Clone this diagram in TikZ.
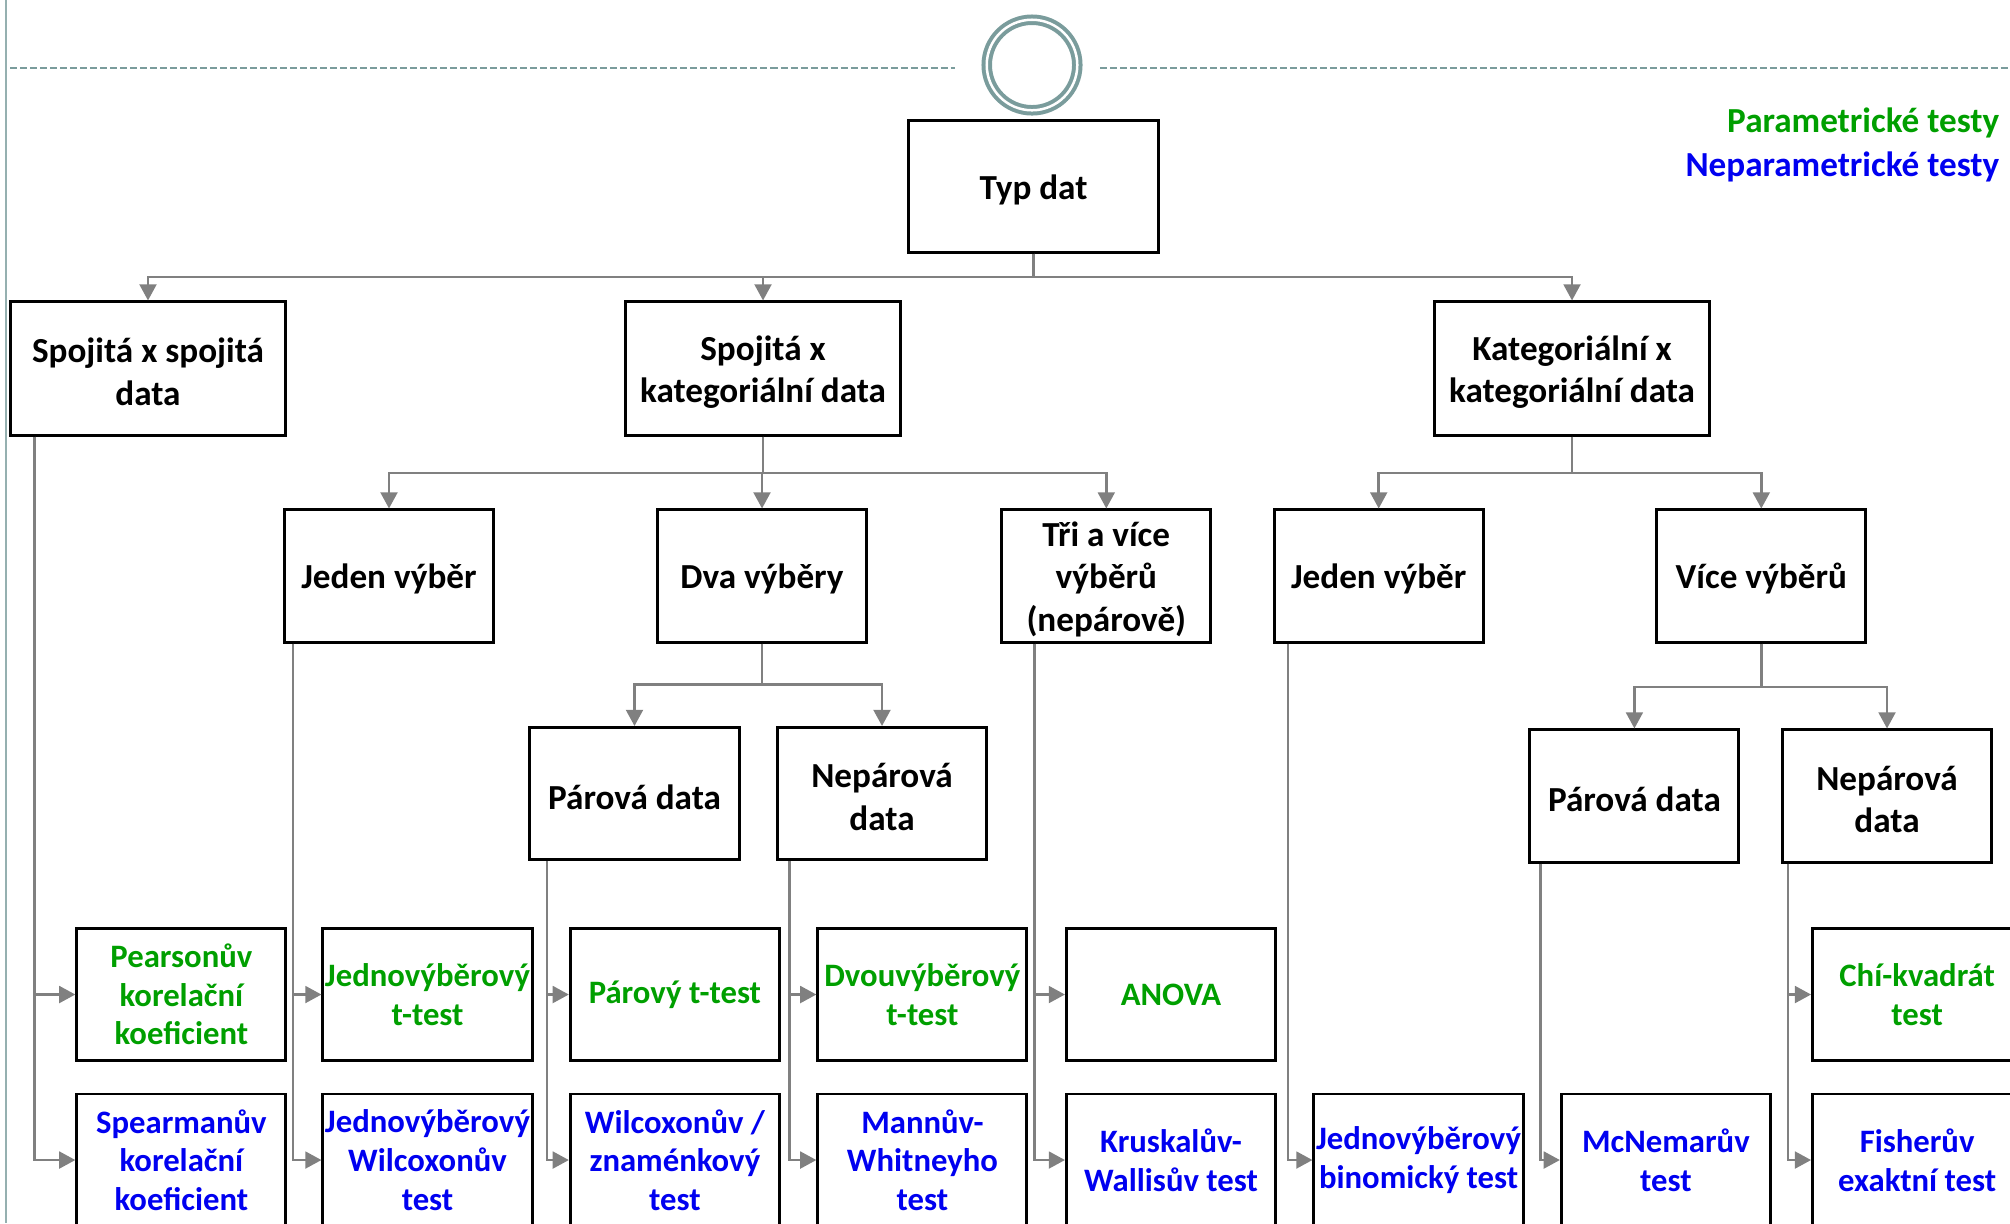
\documentclass[tikz,border=0pt]{standalone}
\usepackage{fontspec}
\setmainfont{Carlito}
\usepackage{tikz}
\usetikzlibrary{arrows.meta,calc}
\definecolor{ParamGreen}{HTML}{009F00}
\definecolor{NeparBlue}{HTML}{0000F0}
\definecolor{LinkGray}{HTML}{808080}
\definecolor{FrameTeal}{HTML}{7A9C9C}

\begin{document}
\begin{tikzpicture}[x=0.01cm,y=-0.01cm,>={Triangle[length=4.6pt,width=4.8pt]},
  frame/.style={draw,line width=0.85pt,align=center,inner sep=0pt,minimum width=2.09cm,minimum height=1.32cm},
  box/.style={frame,font=\bfseries\fontsize{10}{12}\selectfont,execute at begin node={\rule{0pt}{#1}}},
  box/.default=8.9pt,
  bigbox/.style={box=20.9pt,minimum width=2.75cm,minimum height=1.33cm},
  par/.style={frame,text=ParamGreen,font=\bfseries\fontsize{9.3}{11}\selectfont},
  nepar/.style={frame,text=NeparBlue,font=\bfseries\fontsize{9.3}{11}\selectfont},
  link/.style={->,draw=LinkGray,line width=0.7pt}]
\useasboundingbox (0,0) rectangle (2010,1223);
\clip (0,0) rectangle (2010,1223);
% lane
\draw[FrameTeal!80,line width=0.02cm] (6,0) -- (6,1223);
\draw[FrameTeal,line width=0.02cm,dash pattern=on 0.07cm off 0.03cm] (10,68) -- (955,68) (1100,68) -- (2010,68);
\node[circle,draw=FrameTeal,line width=0.04cm,double=white,double distance=0.025cm,minimum size=0.905cm,inner sep=0pt] (start) at (1032,65) {};
% legend
\node[anchor=base east,inner sep=0pt,text=ParamGreen,font=\bfseries\fontsize{10}{12}\selectfont] (legpar) at (2000,132) {Parametrické testy};
\node[anchor=base east,inner sep=0pt,text=NeparBlue,font=\bfseries\fontsize{10}{12}\selectfont] (legnepar) at (2000,176) {Neparametrické testy};
% data types
\node[box,minimum width=2.5cm,minimum height=1.31cm] (typ) at (1033.5,186.5) {Typ dat};
\node[bigbox] (ss) at (148,368.5) {Spojitá x spojitá\\data};
\node[bigbox] (sk) at (763,368.5) {Spojitá x\\kategoriální data};
\node[bigbox] (kk) at (1572,368.5) {Kategoriální x\\kategoriální data};
% samples
\node[box] (jv1) at (389,576) {Jeden výběr};
\node[box] (dv) at (762,576) {Dva výběry};
\node[box=32.9pt] (tri) at (1106.3,576) {Tři a více\\výběrů\\(nepárově)};
\node[box] (jv2) at (1378.7,576) {Jeden výběr};
\node[box] (vv) at (1761.3,576) {Více výběrů};
\node[box] (pd1) at (634.5,793.5) {Párová data};
\node[box=20.9pt] (nd1) at (882,793.5) {Nepárová\\data};
\node[box] (pd2) at (1634.4,796) {Párová data};
\node[box=20.9pt] (nd2) at (1887,796) {Nepárová\\data};
% tests
\node[par] (pear) at (181.4,994.5) {Pearsonův\\korelační\\koeficient};
\node[par] (jtt) at (427.5,994.5) {Jednovýběrový\\t-test};
\node[par] (ptt) at (674.9,994.5) {Párový t-test};
\node[par] (dtt) at (922.4,994.5) {Dvouvýběrový\\t-test};
\node[par] (anova) at (1171,994.5) {ANOVA};
\node[par] (chi) at (1917.1,994.5) {Chí-kvadrát\\test};
\node[nepar] (spear) at (181.4,1160) {Spearmanův\\korelační\\koeficient};
\node[nepar] (jwil) at (427.5,1160) {Jednovýběrový\\Wilcoxonův\\test};
\node[nepar] (wil) at (674.9,1160) {Wilcoxonův /\\znaménkový\\test};
\node[nepar] (mw) at (922.4,1160) {Mannův-\\Whitneyho\\test};
\node[nepar] (kw) at (1171,1160) {Kruskalův-\\Wallisův test};
\node[nepar] (binom) at (1418.5,1160) {Jednovýběrový\\binomický test};
\node[nepar] (mcn) at (1665.9,1160) {McNemarův\\test};
\node[nepar] (fish) at (1917.1,1160) {Fisherův\\exaktní test};
% branches
\coordinate (busA) at (0,277);
\coordinate (busB) at (0,473);
\coordinate (busC) at (0,684.5);
\coordinate (busD) at (0,687);
\draw[link] (typ.south) -- (typ.south|-busA) -| (ss.north);\draw[link] (typ.south) -- (typ.south|-busA) -| (sk.north);\draw[link] (typ.south) -- (typ.south|-busA) -| (kk.north);
\draw[link] (sk.south) -- (sk.south|-busB) -| (jv1.north);\draw[link] (sk.south) -- (sk.south|-busB) -| (dv.north);\draw[link] (sk.south) -- (sk.south|-busB) -| (tri.north);
\draw[link] (kk.south) -- (kk.south|-busB) -| (jv2.north);\draw[link] (kk.south) -- (kk.south|-busB) -| (vv.north);
\draw[link] (dv.south) -- (dv.south|-busC) -| (pd1.north);\draw[link] (dv.south) -- (dv.south|-busC) -| (nd1.north);
\draw[link] (vv.south) -- (vv.south|-busD) -| (pd2.north);\draw[link] (vv.south) -- (vv.south|-busD) -| (nd2.north);
% trunks to tests
\draw[link] ([xshift=0.255cm]ss.south west) |- (pear.west);\draw[link] ([xshift=0.255cm]ss.south west) |- (spear.west);
\draw[link] ([xshift=0.103cm]jv1.south west) |- (jtt.west);\draw[link] ([xshift=0.103cm]jv1.south west) |- (jwil.west);
\draw[link] ([xshift=0.187cm]pd1.south west) |- (ptt.west);\draw[link] ([xshift=0.187cm]pd1.south west) |- (wil.west);
\draw[link] ([xshift=0.135cm]nd1.south west) |- (dtt.west);\draw[link] ([xshift=0.135cm]nd1.south west) |- (mw.west);
\draw[link] ([xshift=0.34cm]tri.south west) |- (anova.west);\draw[link] ([xshift=0.34cm]tri.south west) |- (kw.west);
\draw[link] ([xshift=0.154cm]jv2.south west) |- (binom.west);
\draw[link] ([xshift=0.122cm]pd2.south west) |- (mcn.west);
\draw[link] ([xshift=0.07cm]nd2.south west) |- (chi.west);\draw[link] ([xshift=0.07cm]nd2.south west) |- (fish.west);
\end{tikzpicture}
\end{document}
